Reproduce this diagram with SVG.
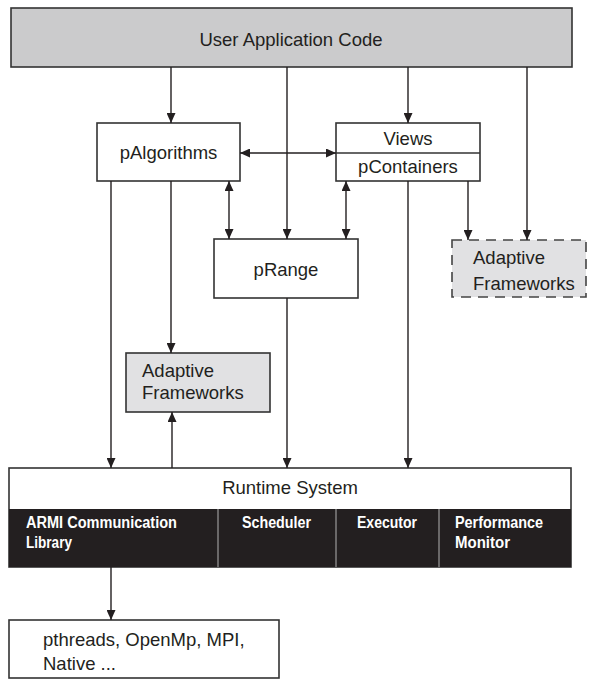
<svg xmlns="http://www.w3.org/2000/svg" width="589" height="680" viewBox="0 0 589 680">
<defs>
<marker id="ah" viewBox="0 0 10 9" markerUnits="userSpaceOnUse" markerWidth="10" markerHeight="9" refX="10" refY="4.5" orient="auto-start-reverse">
<path d="M0,0 L10,4.5 L0,9 z" fill="#231f20"/>
</marker>
<style>
.box{fill:#fff;stroke:#333;stroke-width:1.6}
.gray{fill:#e1e1e3;stroke:#333;stroke-width:1.6}
.dash{fill:#e1e1e3;stroke:#444;stroke-width:1.6;stroke-dasharray:10 7}
.top{fill:#cbcbcc;stroke:#333;stroke-width:1.6}
.t{font-family:"Liberation Sans",Arial,sans-serif;font-size:18.5px;fill:#231f20}
.c{text-anchor:middle}
.b{font-family:"Liberation Sans",Arial,sans-serif;font-size:16px;font-weight:bold;fill:#fff}
.ln{stroke:#231f20;stroke-width:1.4;fill:none}
.ar{marker-end:url(#ah)}
.dbl{marker-start:url(#ah);marker-end:url(#ah)}
.div{stroke:#9a9a9a;stroke-width:1.2}
</style>
</defs>

<g id="user-app">
<rect class="top" x="11" y="8" width="561" height="59"/>
<text class="t c" x="291" y="46">User Application Code</text>
</g>

<g id="palgorithms">
<rect class="box" x="97" y="123" width="143" height="58"/>
<text class="t c" x="168.5" y="159">pAlgorithms</text>
</g>

<g id="views-pcontainers">
<rect class="box" x="336" y="123" width="144" height="58"/>
<line x1="336" y1="153" x2="480" y2="153" stroke="#333" stroke-width="1.4"/>
<text class="t c" x="408" y="145">Views</text>
<text class="t c" x="408" y="173">pContainers</text>
</g>

<g id="prange">
<rect class="box" x="214" y="239" width="144" height="59"/>
<text class="t c" x="286" y="276">pRange</text>
</g>

<g id="adaptive-dashed">
<rect class="dash" x="452" y="240" width="134" height="57"/>
<text class="t" x="473" y="264">Adaptive</text>
<text class="t" x="473" y="290">Frameworks</text>
</g>

<g id="adaptive">
<rect class="gray" x="126" y="353" width="144" height="59"/>
<text class="t" x="142" y="377">Adaptive</text>
<text class="t" x="142" y="399">Frameworks</text>
</g>

<g id="runtime">
<rect class="box" x="9" y="468" width="562" height="99"/>
<text class="t c" x="290" y="494">Runtime System</text>
<rect x="9" y="509" width="562" height="58" fill="#231f20"/>
<line class="div" x1="218" y1="509" x2="218" y2="567"/>
<line class="div" x1="336" y1="509" x2="336" y2="567"/>
<line class="div" x1="439" y1="509" x2="439" y2="567"/>
<text class="b" x="26" y="528" textLength="151" lengthAdjust="spacingAndGlyphs">ARMI Communication</text>
<text class="b" x="26" y="548" textLength="46" lengthAdjust="spacingAndGlyphs">Library</text>
<text class="b" x="242" y="528" textLength="69" lengthAdjust="spacingAndGlyphs">Scheduler</text>
<text class="b" x="357" y="528" textLength="60" lengthAdjust="spacingAndGlyphs">Executor</text>
<text class="b" x="455" y="528" textLength="88" lengthAdjust="spacingAndGlyphs">Performance</text>
<text class="b" x="455" y="548" textLength="55" lengthAdjust="spacingAndGlyphs">Monitor</text>
</g>

<g id="native">
<rect class="box" x="9" y="620" width="270" height="58"/>
<text class="t" x="43" y="646">pthreads, OpenMp, MPI,</text>
<text class="t" x="43" y="670">Native ...</text>
</g>

<g id="connectors">
<line class="ln ar" x1="171" y1="67" x2="171" y2="123"/>
<line class="ln ar" x1="287" y1="67" x2="287" y2="239"/>
<line class="ln ar" x1="408" y1="67" x2="408" y2="123"/>
<line class="ln ar" x1="527" y1="67" x2="527" y2="240"/>
<line class="ln dbl" x1="240" y1="153" x2="336" y2="153"/>
<line class="ln ar" x1="111" y1="181" x2="111" y2="468"/>
<line class="ln ar" x1="171" y1="181" x2="171" y2="353"/>
<line class="ln dbl" x1="229" y1="181" x2="229" y2="239"/>
<line class="ln dbl" x1="346" y1="181" x2="346" y2="239"/>
<line class="ln ar" x1="408" y1="181" x2="408" y2="468"/>
<line class="ln ar" x1="468" y1="181" x2="468" y2="240"/>
<line class="ln ar" x1="287" y1="298" x2="287" y2="468"/>
<line class="ln ar" x1="172" y1="468" x2="172" y2="412"/>
<line class="ln ar" x1="111" y1="567" x2="111" y2="620"/>
</g>
</svg>
